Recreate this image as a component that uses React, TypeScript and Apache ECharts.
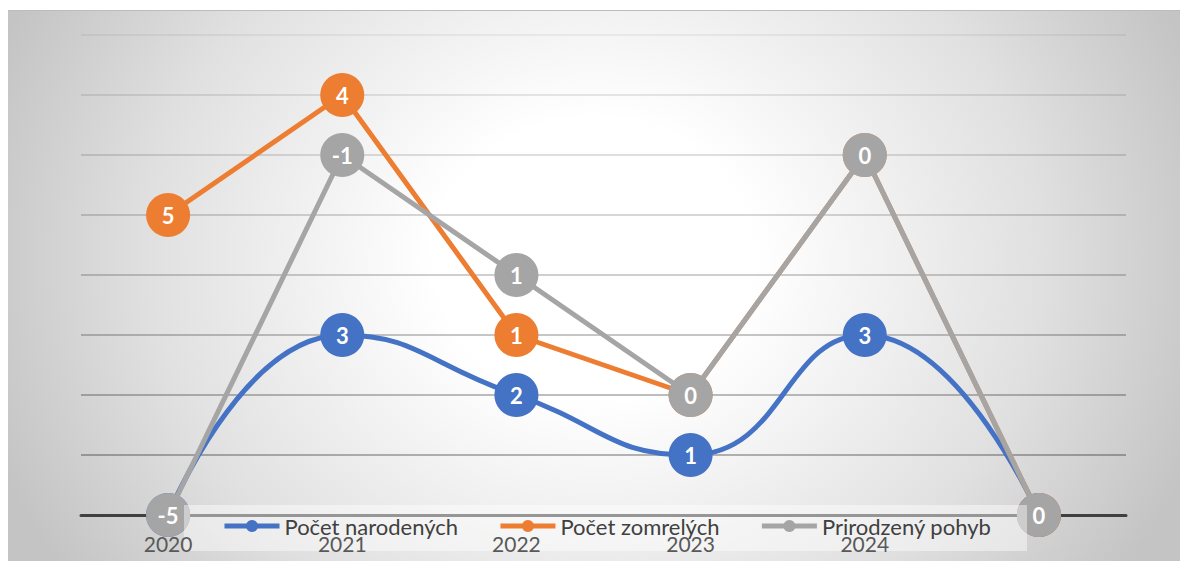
import React, { useEffect, useRef } from 'react';
import * as echarts from 'echarts';

const categories = ['2020', '2021', '2022', '2023', '2024', ''];
const births = [0, 3, 2, 1, 3, 0];
const deaths = [5, 4, 1, 1, 3, 0];
const naturalChange = [-5, -1, 1, 0, 0, 0];
const seriesNames = ['Počet narodených', 'Počet zomrelých', 'Prirodzený pohyb'];
const seriesColors = ['#4472c4', '#ed7d31', '#a5a5a5'];
const gridColors = [
  'rgba(0,0,0,0.7)',
  'rgba(0,0,0,0.38)',
  'rgba(0,0,0,0.34)',
  'rgba(0,0,0,0.3)',
  'rgba(0,0,0,0.25)',
  'rgba(0,0,0,0.21)',
  'rgba(0,0,0,0.17)',
  'rgba(0,0,0,0.13)',
  'rgba(0,0,0,0.07)',
];

const FONT = 'Lato';

export default function App() {
  const ref = useRef<HTMLDivElement>(null);
  useEffect(() => {
    if (!ref.current) return;
    const chart = echarts.init(ref.current, null, { renderer: 'svg' });
    const data = [births, deaths, naturalChange];
    chart.setOption({
      animation: false,
      grid: { left: 73, right: 54, top: 24, bottom: 46 },
      xAxis: [
        {
          type: 'category',
          position: 'bottom',
          data: categories,
          boundaryGap: true,
          axisTick: { show: false },
          axisLine: { lineStyle: { color: '#404040', width: 3 } },
          axisLabel: { show: false },
          splitLine: { show: false },
        },
        {
          type: 'category',
          position: 'bottom',
          data: categories,
          boundaryGap: true,
          z: 30,
          axisTick: { show: false },
          axisLine: { show: false },
          axisLabel: { color: '#595959', fontSize: 21, fontFamily: FONT, margin: 18 },
          splitLine: { show: false },
        },
      ],
      yAxis: {
        type: 'value',
        min: 0,
        max: 8,
        interval: 1,
        axisLabel: { show: false },
        axisLine: { show: false },
        axisTick: { show: false },
        splitLine: { lineStyle: { color: gridColors, width: 1.5 } },
      },
      legend: {
        left: 214,
        top: 504,
        padding: 0,
        itemWidth: 55,
        itemHeight: 15,
        itemGap: 40,
        z: 20,
        lineStyle: { width: 5 },
        textStyle: { color: '#404040', fontSize: 22, fontFamily: FONT },
        data: seriesNames,
      },
      graphic: [
        {
          type: 'rect',
          z: 10,
          silent: true,
          shape: { x: 176, y: 494, width: 843, height: 46 },
          style: { fill: 'rgba(255,255,255,0.45)' },
        },
      ],
      series: seriesNames.map((name, i) => ({
        type: 'line',
        name,
        data: data[i],
        xAxisIndex: 0,
        stack: 'total',
        stackStrategy: 'all',
        smooth: i === 0 ? 0.5 : false,
        symbol: 'circle',
        symbolSize: 44,
        showSymbol: true,
        z: 2 + i,
        lineStyle: { width: 5, color: seriesColors[i] },
        itemStyle: { color: seriesColors[i] },
        label: {
          show: true,
          position: 'inside',
          color: '#ffffff',
          fontWeight: 'bold',
          fontSize: 22,
          fontFamily: FONT,
        },
        emphasis: { disabled: true },
      })),
    });
    return () => chart.dispose();
  }, []);
  return (
    <div
      ref={ref}
      style={{
        position: 'absolute',
        left: 8,
        top: 10,
        width: 1172,
        height: 551,
        borderTop: '1px solid #bcbcbc',
        boxSizing: 'border-box',
        background:
          'radial-gradient(ellipse 640px 560px at 50% 45%, #ffffff 0%, #ffffff 25%, #e0e0e0 70%, #c4c4c4 100%)',
      }}
    />
  );
}
